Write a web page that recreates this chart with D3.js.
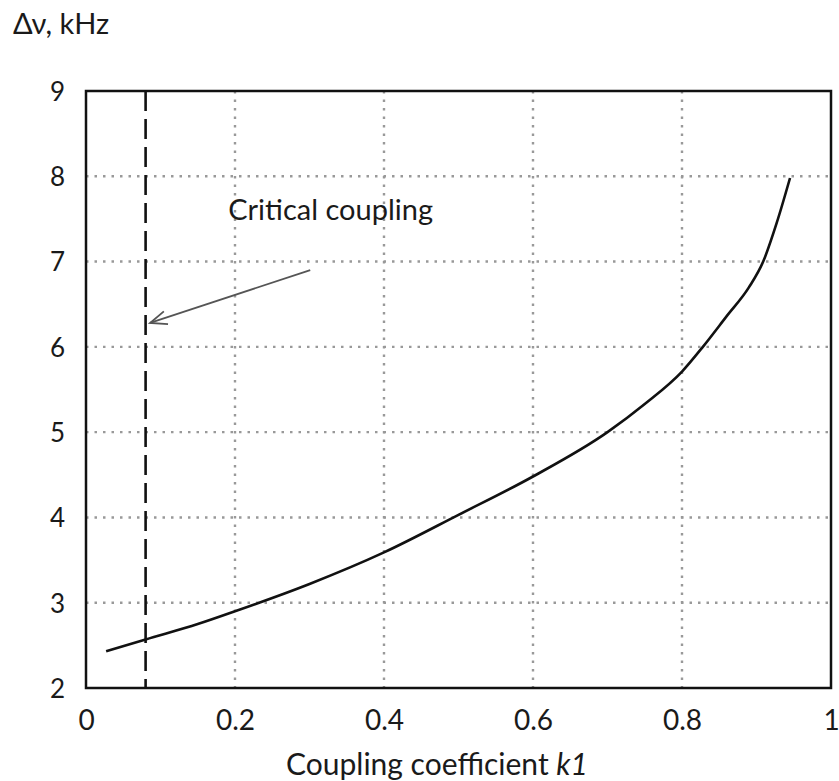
<!DOCTYPE html>
<html>
<head>
<meta charset="utf-8">
<script src="https://cdn.jsdelivr.net/npm/d3@7"></script>
<style>
  body { margin: 0; background: #fff; }
  svg text { font-family: Lato, "Open Sans", sans-serif; fill: #1a1a1a; }
</style>
</head>
<body>
<svg id="chart" width="839" height="781"></svg>
<script>
// values
var couplingK = [0.027, 0.08, 0.15, 0.2, 0.3, 0.4, 0.5, 0.6, 0.7, 0.75, 0.8, 0.828, 0.86, 0.89, 0.909, 0.927, 0.945];
var deltaNu   = [2.43, 2.57, 2.75, 2.9, 3.22, 3.59, 4.03, 4.48, 5.0, 5.33, 5.71, 6.0, 6.36, 6.7, 7.0, 7.45, 7.98];
var criticalK = 0.08;
var xTicks = [0, 0.2, 0.4, 0.6, 0.8, 1];
var xTickLabels = ['0', '0.2', '0.4', '0.6', '0.8', '1'];
var yTicks = [2, 3, 4, 5, 6, 7, 8, 9];

var margin = {left: 86, top: 91, right: 8, bottom: 93};
var width = 839 - margin.left - margin.right;
var height = 781 - margin.top - margin.bottom;

var svg = d3.select('#chart');
var g = svg.append('g').attr('transform', 'translate(' + margin.left + ',' + margin.top + ')');

var x = d3.scaleLinear().domain([0, 1]).range([0, width]);
var y = d3.scaleLinear().domain([2, 9]).range([height, 0]);

// dotted grid
g.selectAll('.grid-x').data(xTicks.slice(1, -1)).enter().append('line')
  .attr('x1', x).attr('x2', x).attr('y1', 0).attr('y2', height)
  .attr('stroke', '#999').attr('stroke-width', 2.4).attr('stroke-dasharray', '2.5,6');
g.selectAll('.grid-y').data(yTicks.slice(1, -1)).enter().append('line')
  .attr('y1', y).attr('y2', y).attr('x1', 0).attr('x2', width)
  .attr('stroke', '#999').attr('stroke-width', 2.4).attr('stroke-dasharray', '2.5,6');

// frame
g.append('rect').attr('width', width).attr('height', height)
  .attr('fill', 'none').attr('stroke', '#111').attr('stroke-width', 2.5);

// axes, labels only
var xAxis = d3.axisBottom(x).tickValues(xTicks).tickSize(0).tickPadding(22)
  .tickFormat(function(d, i) { return xTickLabels[i]; });
g.append('g').attr('transform', 'translate(0,' + height + ')').call(xAxis)
  .call(function(a) { a.select('.domain').remove(); })
  .selectAll('text').style('font-size', '28px').style('font-family', 'Lato, sans-serif').attr('fill', '#1a1a1a');

var yAxis = d3.axisLeft(y).tickValues(yTicks).tickSize(0).tickPadding(21)
  .tickFormat(d3.format('d'));
g.append('g').call(yAxis)
  .call(function(a) { a.select('.domain').remove(); })
  .selectAll('text').style('font-size', '26px').style('font-family', 'Lato, sans-serif').attr('fill', '#1a1a1a')
  .attr('dy', '0.36em');

// critical coupling dashed line
g.append('line')
  .attr('x1', x(criticalK)).attr('x2', x(criticalK))
  .attr('y1', 0).attr('y2', height)
  .attr('stroke', '#111').attr('stroke-width', 2.6).attr('stroke-dasharray', '20,8');

// curve
var line = d3.line()
  .x(function(d) { return x(d[0]); })
  .y(function(d) { return y(d[1]); })
  .curve(d3.curveMonotoneX);
g.append('path')
  .datum(d3.zip(couplingK, deltaNu))
  .attr('d', line)
  .attr('fill', 'none').attr('stroke', '#111').attr('stroke-width', 2.6);

// annotation
g.append('text')
  .attr('x', x(0.191)).attr('y', y(7.49))
  .style('font-size', '29px')
  .text('Critical coupling');

var arrowFrom = [0.301, 6.9];
var arrowTo = [0.086, 6.28];
var ax0 = x(arrowFrom[0]), ay0 = y(arrowFrom[1]);
var ax1 = x(arrowTo[0]), ay1 = y(arrowTo[1]);
g.append('line')
  .attr('x1', ax0).attr('y1', ay0).attr('x2', ax1).attr('y2', ay1)
  .attr('stroke', '#555').attr('stroke-width', 1.8);
var ang = Math.atan2(ay0 - ay1, ax0 - ax1);
var headLen = 18, spread = 0.38;
g.append('path')
  .attr('d', 'M' + (ax1 + headLen * Math.cos(ang + spread)) + ',' + (ay1 + headLen * Math.sin(ang + spread)) +
    'L' + ax1 + ',' + ay1 +
    'L' + (ax1 + headLen * Math.cos(ang - spread)) + ',' + (ay1 + headLen * Math.sin(ang - spread)))
  .attr('fill', 'none').attr('stroke', '#555').attr('stroke-width', 1.8);

// axis titles
var xTitle = svg.append('text')
  .attr('x', 437).attr('y', 775)
  .attr('text-anchor', 'middle')
  .style('font-size', '30px');
xTitle.append('tspan').text('Coupling coefficient ');
xTitle.append('tspan').style('font-style', 'italic').text('k1');

svg.append('text')
  .attr('x', 13).attr('y', 34)
  .style('font-size', '29px')
  .text('\u0394\u03bd, kHz');
</script>
</body>
</html>
